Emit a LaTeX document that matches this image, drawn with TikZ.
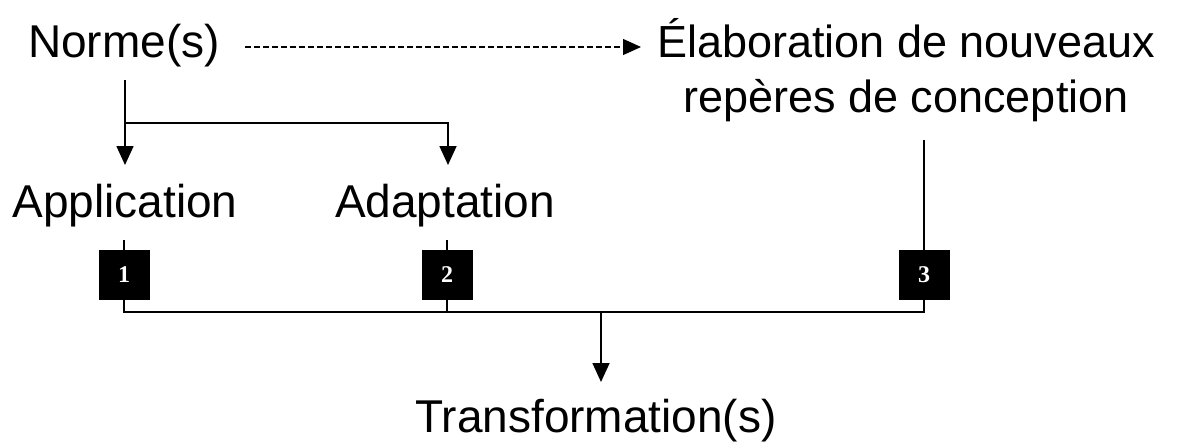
\documentclass[tikz,border=0pt]{standalone}
\usepackage{fontspec}
\setmainfont{Liberation Sans}
\newfontfamily\numfont{Liberation Serif}
\usetikzlibrary{arrows.meta}
\begin{document}
\begin{tikzpicture}[x=1pt,y=-1pt,
  lbl/.style={font=\fontsize{46}{55}\selectfont, inner sep=0pt, anchor=base, align=center},
  numbox/.style={fill=black, minimum width=51pt, minimum height=50pt, inner sep=0pt,
    text=white, font=\numfont\bfseries\fontsize{24}{24}\selectfont},
  conn/.style={line width=1.7pt},
  arr/.style={conn, -{Triangle[length=19pt,width=17pt]}},
  darr/.style={line width=1.3pt, dash pattern=on 6pt off 3pt, -{Triangle[length=18pt,width=16pt]}}
]
\useasboundingbox (0,0) rectangle (1181,442);
\node[lbl] (norme) at (124,57) {Norme(s)};
\node[lbl, font=\fontsize{45}{55}\selectfont] (elab) at (906,112) {Élaboration de nouveaux\\repères de conception};
\node[lbl] (appl) at (125,217) {Application};
\node[lbl] (adap) at (445,217) {Adaptation};
\node[lbl] (trans) at (596,432) {Transformation(s)};
\node[numbox] (b1) at (124,275) {1};
\node[numbox] (b2) at (447,275) {2};
\node[numbox] (b3) at (924,275) {3};
\coordinate (nstart) at (125,80);
\coordinate (j1) at (125,123);
\coordinate (j2) at (448,123);
\coordinate (atop) at (125,165);
\coordinate (dtop) at (448,165);
\coordinate (dstart) at (245,47);
\coordinate (dend) at (641,47);
\coordinate (e3) at (924,140);
\coordinate (h1) at (124,312);
\coordinate (h2) at (447,312);
\coordinate (h3) at (924,312);
\coordinate (hm) at (601,312);
\coordinate (tt) at (601,382);
\coordinate (a1) at (124,240);
\coordinate (a2) at (447,240);

\draw[darr] (dstart) -- (dend);
\draw[arr] (nstart) -- (atop);
\draw[arr] (j1) -- (j2) -- (dtop);
\draw[conn] (a1) -- (b1.north);
\draw[conn] (a2) -- (b2.north);
\draw[conn] (e3) -- (b3.north);
\draw[conn] (b1.south) -- (h1) -- (h3) -- (b3.south);
\draw[conn] (b2.south) -- (h2);
\draw[arr] (hm) -- (tt);
\end{tikzpicture}
\end{document}
